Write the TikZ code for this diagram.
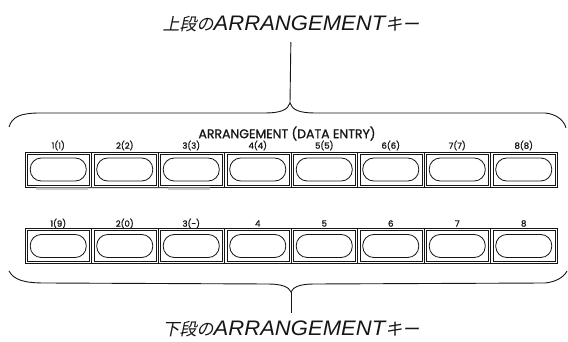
\documentclass[tikz,border=0pt]{standalone}
\usepackage{fontspec}
\usepackage{xcolor}
\usetikzlibrary{positioning, calc}
\newfontfamily\jpfont[FakeSlant=0.2]{Noto Sans CJK JP}
\newfontfamily\capfont[FakeStretch=1.05]{Liberation Sans}
\newfontfamily\keyfont[FakeBold=1.2]{Poppins}
\definecolor{ink}{RGB}{22,22,22}
\definecolor{smudge}{RGB}{168,168,168}
% caption: <row>のARRANGEMENTキー
\newcommand{\rowcaption}[1]{{\jpfont #1の}{\capfont\itshape\fontsize{21}{24}\selectfont ARRANGEMENT}{\jpfont キー}}

\begin{document}
\begin{tikzpicture}[x=1pt, y=-1pt,
    keyframe/.style={draw=ink, line width=0.9pt, minimum width=66.5pt, minimum height=35pt,
                     inner sep=0pt, outer sep=0pt},
    keyinner/.style={draw=ink, line width=0.4pt, minimum width=62pt, minimum height=31pt, inner sep=0pt},
    keycap/.style={draw=ink, line width=0.8pt, rounded corners=11pt, minimum width=56pt,
                   minimum height=23pt, inner sep=0pt},
    keylab/.style={font=\keyfont\fontsize{8.5}{9}\selectfont, text=ink, inner sep=0pt},
    brace/.style={draw=ink, line width=0.9pt},
    caption/.style={font=\fontsize{17}{20}\selectfont, text=ink, inner sep=0pt}
  ]
  \useasboundingbox (0,0) rectangle (568,342);

  % --- upper row of keys ---
  \foreach \i/\lab in {1/1(1), 2/2(2), 3/3(3), 4/4(4), 5/5(5), 6/6(6), 7/7(7), 8/8(8)} {
      \node[keyframe] (u\i) at (66.5*\i-8.25,169.5) {};
      \node[keyinner] (ui\i) at (u\i) {};
      \node[keycap] (uc\i) at (u\i) {};
      \node[keylab] (ul\i) at ($(u\i.north)+(0,-6.5)$) {\lab};
  }
  % smudges under the first keys
  \fill[smudge, opacity=0.6] (36,187.5) rectangle (88,190);
  \fill[smudge, opacity=0.35] (88,187.5) rectangle (168,189);
  \fill[smudge, opacity=0.6] (168,187.5) rectangle (210,190);
  \node[keylab, font=\keyfont\fontsize{12.5}{14}\selectfont] (group) at (287,133.5) {ARRANGEMENT (DATA ENTRY)};

  % --- lower row of keys ---
  \foreach \i/\lab in {1/1(9), 2/2(0), 3/3(-), 4/4, 5/5, 6/6, 7/7, 8/8} {
      \node[keyframe] (l\i) at (66.5*\i-8.25,246) {};
      \node[keyinner] (li\i) at (l\i) {};
      \node[keycap] (lc\i) at (l\i) {};
      \node[keylab] (ll\i) at ($(l\i.north)+(0,-5)$) {\lab};
  }

  % --- braces ---
  \coordinate (uptip) at (290,103);
  \coordinate (lowtip) at (291,292);
  \draw[brace] (9,127) .. controls (12,117) and (20,113) .. (40,113) -- (265,113)
       .. controls (280,113) and (288,110) .. (uptip)
       .. controls (292,110) and (300,113) .. (315,113) -- (545,113)
       .. controls (556,114) and (564,120) .. (566,128);
  \draw[brace] (9,271) .. controls (14,280) and (24,283) .. (45,283) -- (268,284)
       .. controls (282,284) and (289,287) .. (lowtip)
       .. controls (293,287) and (300,284) .. (314,284) -- (545,283)
       .. controls (556,282) and (564,277) .. (567,271);

  % --- captions ---
  \node[caption] (upcap) at (291,24) {\rowcaption{上段}};
  \node[caption] (lowcap) at (291,329) {\rowcaption{下段}};
  \draw[brace] (uptip) -- (upcap.south) [shorten >=10pt];
  \draw[brace] (lowtip) -- (lowcap.north) [shorten >=8pt];
\end{tikzpicture}
\end{document}
